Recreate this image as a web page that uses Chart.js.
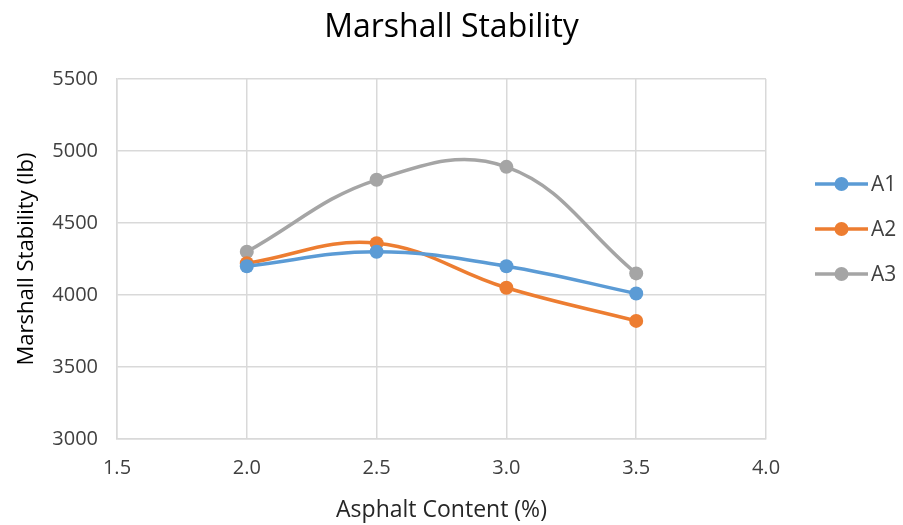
<!DOCTYPE html>
<html>
<head>
<meta charset="utf-8">
<script src="https://cdn.jsdelivr.net/npm/chart.js@4/dist/chart.umd.min.js"></script>
<style>
  html, body { margin: 0; padding: 0; background: #fff; }
  #wrap { width: 903px; height: 525px; }
</style>
</head>
<body>
<div id="wrap"><canvas id="c" width="903" height="525"></canvas></div>
<script>
// Asphalt content (%) and Marshall stability (lb) for each mix
const asphaltContent = [2.0, 2.5, 3.0, 3.5];
const stabilityA1 = [4200, 4300, 4200, 4010];
const stabilityA2 = [4220, 4360, 4050, 3820];
const stabilityA3 = [4300, 4800, 4890, 4150];
const seriesNames = ['A1', 'A2', 'A3'];
const seriesColors = ['#5B9BD5', '#ED7D31', '#A5A5A5'];
const chartTitle = 'Marshall Stability';

const FONT = '"Open Sans", Lato, sans-serif';

function toPoints(values) {
  return asphaltContent.map((x, i) => ({ x: x, y: values[i] }));
}

const allValues = [stabilityA1, stabilityA2, stabilityA3];
const datasets = allValues.map((vals, i) => ({
  label: seriesNames[i],
  data: toPoints(vals),
  borderColor: seriesColors[i],
  backgroundColor: seriesColors[i],
  borderWidth: 3.5,
  pointRadius: 7,
  pointHoverRadius: 7,
  pointBorderWidth: 0,
  tension: 0.4,
  fill: false
}));

// Title centred on the whole canvas, and a legend at the right with
// a short line plus round marker for each series
const decorations = {
  id: 'decorations',
  afterDraw(chart) {
    const ctx = chart.ctx;
    ctx.save();
    ctx.fillStyle = '#000';
    ctx.font = '32px ' + FONT;
    ctx.textAlign = 'center';
    ctx.textBaseline = 'middle';
    ctx.fillText(chartTitle, chart.width / 2, 28);

    const x0 = 815, x1 = 868, top = 184, gap = 45;
    seriesNames.forEach((name, i) => {
      const y = top + i * gap;
      ctx.strokeStyle = seriesColors[i];
      ctx.lineWidth = 3.5;
      ctx.beginPath();
      ctx.moveTo(x0, y);
      ctx.lineTo(x1, y);
      ctx.stroke();
      ctx.fillStyle = seriesColors[i];
      ctx.beginPath();
      ctx.arc((x0 + x1) / 2, y, 7, 0, Math.PI * 2);
      ctx.fill();
      ctx.fillStyle = '#404040';
      ctx.font = '21px ' + FONT;
      ctx.textBaseline = 'middle';
      ctx.textAlign = 'left';
      ctx.fillText(name, x1 + 3, y + 1);
    });
    ctx.restore();
  }
};

new Chart(document.getElementById('c'), {
  type: 'line',
  data: { datasets: datasets },
  options: {
    responsive: false,
    animation: false,
    layout: { padding: { left: 0, right: 137, top: 79, bottom: 0 } },
    plugins: {
      legend: { display: false },
      tooltip: { enabled: false },
      title: { display: false }
    },
    scales: {
      x: {
        type: 'linear',
        min: 1.5,
        max: 4.0,
        afterFit: s => { s.height = 86; },
        ticks: {
          stepSize: 0.5,
          color: '#404040',
          font: { family: FONT, size: 20 },
          padding: 17,
          callback: v => Number(v).toFixed(1)
        },
        grid: { color: '#D9D9D9', lineWidth: 1.5, drawTicks: false },
        border: { color: '#D9D9D9', width: 1.5 },
        title: {
          display: true,
          text: 'Asphalt Content (%)',
          color: '#262626',
          font: { family: FONT, size: 23 },
          padding: { top: 0, bottom: 1 }
        }
      },
      y: {
        min: 3000,
        max: 5500,
        afterFit: s => { s.width = 117; },
        ticks: {
          stepSize: 500,
          color: '#404040',
          font: { family: FONT, size: 20 },
          padding: 19,
          callback: v => String(v)
        },
        grid: { color: '#D9D9D9', lineWidth: 1.5, drawTicks: false },
        border: { color: '#D9D9D9', width: 1.5 },
        title: {
          display: true,
          text: 'Marshall Stability (lb)',
          color: '#000',
          font: { family: FONT, size: 22 },
          padding: 14
        }
      }
    }
  },
  plugins: [decorations]
});
</script>
</body>
</html>
